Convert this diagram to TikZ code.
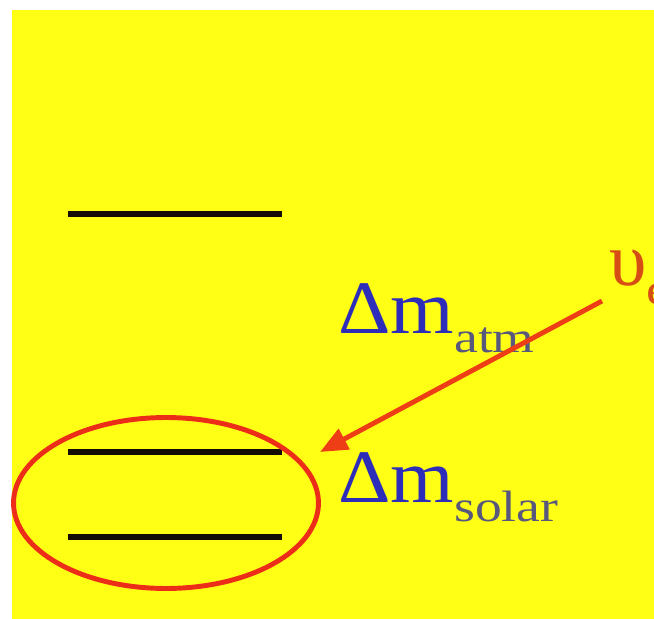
\documentclass[tikz,border=0pt]{standalone}
\usepackage{fontspec}
\setmainfont{Liberation Serif}
\newfontfamily\bigfont[FakeStretch=1.08]{Liberation Serif}
\newfontfamily\subfont[FakeStretch=1.22]{Liberation Serif}
\usetikzlibrary{arrows.meta,shapes.geometric}
\definecolor{slideyellow}{RGB}{255,255,22}
\definecolor{markred}{RGB}{236,46,24}
\definecolor{arrowred}{RGB}{238,62,22}
\definecolor{deltablue}{RGB}{45,45,185}
\definecolor{subgray}{RGB}{88,88,125}
\definecolor{nured}{RGB}{215,78,20}
\newcommand{\dmlabel}[1]{{\bigfont\fontsize{43}{43}\selectfont\color{deltablue}Δm}\raisebox{-0.4cm}{\subfont\fontsize{25}{25}\selectfont\color{subgray}#1}}

\begin{document}
\begin{tikzpicture}[
  x=0.02cm, y=-0.02cm,
  level/.style={line width=3.4pt, black!90!brown},
  arrow/.style={-{Triangle[length=0.55cm, width=0.45cm]}, line width=2.8pt, arrowred},
  label/.style={inner sep=0pt, anchor=base west}
]
\useasboundingbox (0,0) rectangle (654,619);
\begin{scope}
\clip (0,0) rectangle (654,619);
\fill[slideyellow] (12,10) rectangle (654,619);

% Mass levels
\draw[level] (68,214) -- (282,214);
\draw[level] (68,452) -- (282,452);
\draw[level] (68,537) -- (282,537);

% Splittings
\node[label] (atm)   at (338,333) {\dmlabel{atm}};
\node[label] (solar) at (338,502) {\dmlabel{solar}};

% Neutrino flavour
\node[label] (nue) at (609,285) {{\fontsize{43}{43}\selectfont\color{nured}υ}\raisebox{-0.4cm}{\subfont\fontsize{25}{25}\selectfont\color{nured}e}};

% Close pair
\node[ellipse, draw=markred, line width=2.8pt, minimum width=6.1cm, minimum height=3.42cm] (pair) at (166,503) {};

\coordinate (nutail) at (602,301);
\coordinate (nutip)  at (320,452);
\draw[arrow] (nutail) -- (nutip);
\end{scope}
\end{tikzpicture}
\end{document}
